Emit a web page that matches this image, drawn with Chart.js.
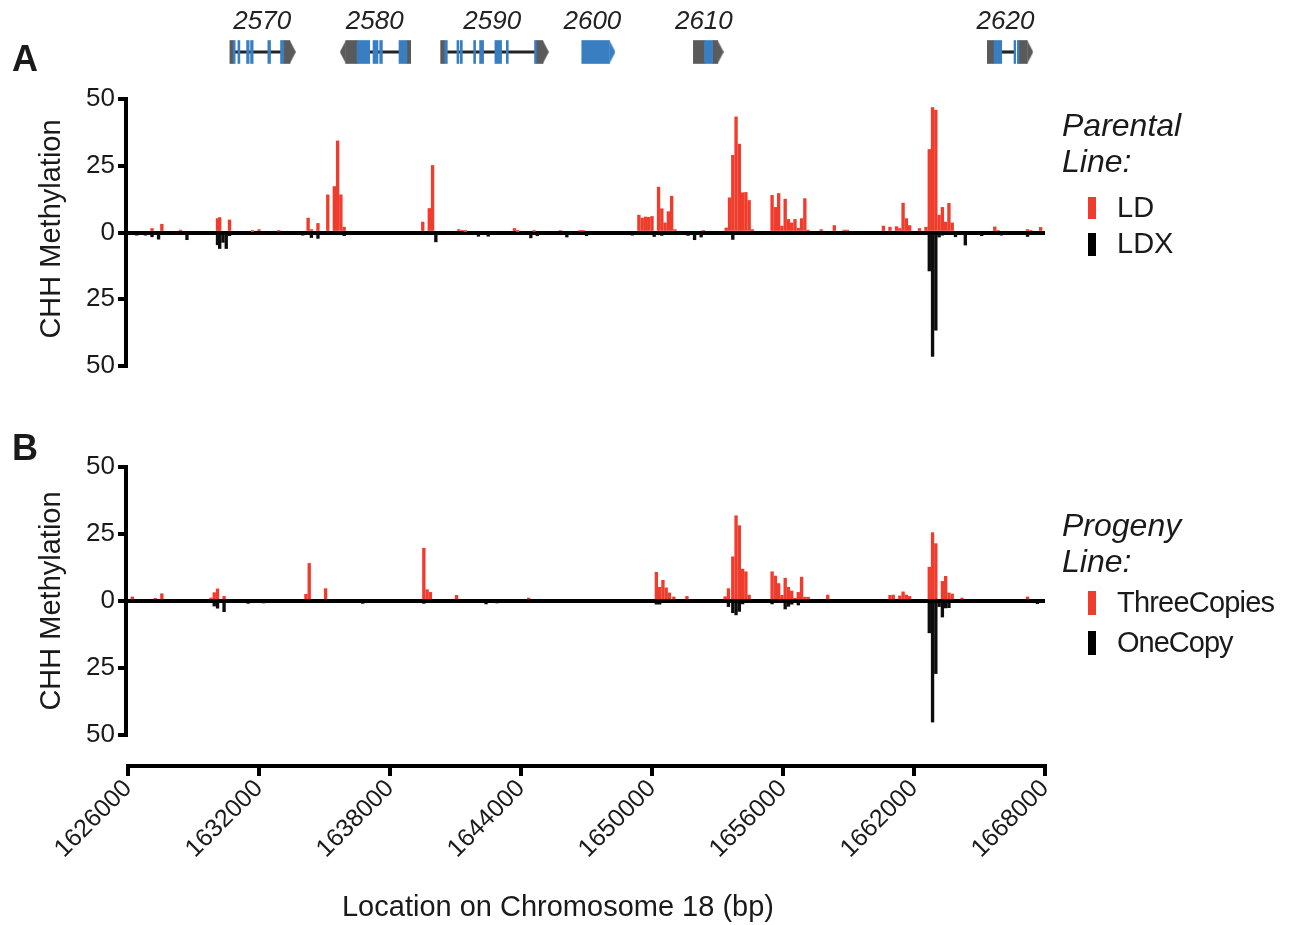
<!DOCTYPE html>
<html><head><meta charset="utf-8">
<script src="https://cdn.jsdelivr.net/npm/chart.js@4.4.1/dist/chart.umd.min.js"></script>
<style>
body{margin:0;background:#fff;width:1291px;height:925px;overflow:hidden;position:relative;font-family:"Liberation Sans",Arial,Helvetica,sans-serif;color:#1a1a1a;}
canvas{position:absolute;left:0;}
.t{position:absolute;white-space:nowrap;line-height:1;}
.rot{position:absolute;white-space:nowrap;line-height:1;transform:translate(-50%,-50%) rotate(-90deg);font-size:29px;}
.mk{position:absolute;width:8px;}
</style></head><body>
<canvas id="genes" width="1291" height="72" style="top:0"></canvas>
<canvas id="pa" width="1291" height="327" style="top:69px"></canvas>
<canvas id="pb" width="1291" height="488" style="top:437px"></canvas>

<div class="t" style="left:12px;top:41px;font-size:36px;font-weight:bold;">A</div>
<div class="t" style="left:12px;top:430px;font-size:36px;font-weight:bold;">B</div>
<div class="rot" style="left:50px;top:229px;">CHH Methylation</div>
<div class="rot" style="left:50px;top:601px;">CHH Methylation</div>
<div class="t" style="left:558px;top:892px;font-size:29px;transform:translateX(-50%);">Location on Chromosome 18 (bp)</div>

<div class="t" style="left:1062px;top:109px;font-size:32px;font-style:italic;">Parental</div>
<div class="t" style="left:1062px;top:145px;font-size:32px;font-style:italic;">Line:</div>
<div class="mk" style="left:1088px;top:197px;height:22px;background:#f03c2c;"></div>
<div class="mk" style="left:1088px;top:233px;height:23px;background:#000;"></div>
<div class="t" style="left:1117px;top:193px;font-size:29px;">LD</div>
<div class="t" style="left:1117px;top:229px;font-size:29px;">LDX</div>

<div class="t" style="left:1062px;top:509px;font-size:32px;font-style:italic;">Progeny</div>
<div class="t" style="left:1062px;top:545px;font-size:32px;font-style:italic;">Line:</div>
<div class="mk" style="left:1088px;top:591px;height:24px;background:#f03c2c;"></div>
<div class="mk" style="left:1088px;top:631px;height:24px;background:#000;"></div>
<div class="t" style="left:1117px;top:588px;font-size:29px;letter-spacing:-0.8px;">ThreeCopies</div>
<div class="t" style="left:1117px;top:628px;font-size:29px;letter-spacing:-1px;">OneCopy</div>

<script>
// ---------- data ----------
const X_MIN = 1626000, X_MAX = 1668000;
const xTicks = [1626000,1632000,1638000,1644000,1650000,1656000,1662000,1668000];
const yTicks = [50,25,0,-25,-50];

// Panel A: parental lines
const ldPos = [1627100,1627550,1628400,1630100,1630200,1630650,1631700,1632000,1632900,1634250,1634400,1634700,1635150,1635450,1635600,1635750,1635900,1639500,1639800,1639950,1641150,1641300,1641450,1643700,1643850,1644600,1645800,1646700,1646850,1649400,1649550,1649700,1649850,1650000,1650300,1650450,1650600,1650750,1650900,1651050,1652350,1653400,1653550,1653700,1653850,1654000,1654150,1654300,1654450,1654600,1655500,1655650,1655800,1655950,1656100,1656250,1656400,1656550,1656700,1656850,1657000,1657150,1657750,1658350,1658800,1658950,1660600,1660900,1661200,1661350,1661500,1661650,1661800,1662250,1662550,1662700,1662850,1663000,1663150,1663300,1663450,1663600,1663750,1665700,1665850,1667200,1667350,1667800];
const ldVal = [1.5,3.1,0.9,5.2,5.6,4.7,0.3,1.1,0.5,5.4,1.1,3.4,14.1,17.2,34.3,14.1,2.0,3.9,9.0,25.1,1.1,0.6,0.3,1.5,0.3,0.4,0.7,0.5,0.5,6.5,5.4,5.8,5.7,6.0,17.0,8.9,3.6,7.8,13.6,1.1,0.6,1.7,13.0,28.9,43.3,33.1,14.9,15.0,12.0,1.1,13.9,9.4,14.6,2.4,12.5,4.9,3.6,4.9,1.6,5.2,12.7,0.9,1.1,2.6,0.9,0.9,2.4,2.0,2.2,1.5,11.0,5.2,2.6,1.5,2.0,31.1,46.8,45.8,6.5,9.4,3.9,10.9,3.6,2.1,0.7,1.1,0.7,1.9];
const ldxPos = [1626400,1626800,1627100,1627400,1628700,1630100,1630200,1630350,1630500,1630650,1634000,1634400,1634700,1635900,1640100,1642050,1642500,1644450,1644750,1646100,1647000,1649100,1650100,1650450,1651650,1651950,1652250,1653700,1662700,1662850,1663000,1663150,1663300,1663900,1664350,1665100,1666000,1667200];
const ldxVal = [1.0,1.0,1.6,2.5,2.7,4.6,6.0,3.7,6.0,1.2,1.0,1.9,2.2,1.2,3.5,1.4,1.4,2.0,1.2,1.7,1.2,1.0,1.5,1.1,1.1,2.7,1.7,2.6,14.4,46.4,36.6,1.7,1.0,1.6,4.7,1.2,1.0,1.5];

// Panel B: progeny lines
const threePos = [1626200,1627250,1627550,1629800,1629950,1630100,1630400,1634150,1634300,1635050,1639550,1639700,1639850,1641050,1644350,1650200,1650350,1650500,1650650,1650800,1651000,1651600,1653350,1653500,1653700,1653850,1654000,1654150,1654300,1654450,1655500,1655650,1655800,1655950,1656100,1656250,1656400,1656550,1656700,1656850,1657000,1657150,1658050,1660900,1661050,1661350,1661500,1661650,1661800,1662700,1662850,1663000,1663300,1663450,1663600,1663750,1664200,1667200];
const threeVal = [1.5,1.0,2.7,1.1,3.1,4.5,1.7,2.5,14.0,4.6,19.7,4.2,3.2,2.1,1.1,10.7,5.1,7.7,4.9,3.0,1.5,1.7,1.6,4.6,16.5,31.8,28.1,11.9,10.9,2.2,10.9,9.3,6.5,2.1,8.5,5.1,3.7,1.0,3.2,8.9,1.4,1.4,2.2,2.1,2.2,1.9,3.4,2.2,1.7,12.6,25.5,21.4,7.3,9.2,3.0,2.6,1.1,1.5];
const onePos = [1629950,1630100,1630400,1631500,1632200,1636750,1639550,1642400,1642900,1650200,1650350,1653500,1653700,1653850,1654000,1654150,1655500,1656100,1656250,1656400,1656700,1662700,1662850,1663000,1663150,1663300,1663450,1663600,1667650];
const oneVal = [1.9,2.7,4.0,0.9,0.5,0.9,0.9,1.1,0.5,1.2,1.2,2.1,4.4,5.2,3.9,1.1,1.1,3.0,2.0,1.2,1.5,11.9,45.2,27.1,2.1,6.0,2.6,2.5,1.0];

// Gene track
const geneNames = ['2570','2580','2590','2600','2610','2620'];
const geneLabelPos = [1632150,1637300,1642680,1647270,1652375,1666190];
const exons = [[1630817,1630909],[1631033,1631124],[1631431,1631549],[1631614,1631732],[1632405,1632529],[1632986,1633137],
  [1636490,1637072],[1637222,1637451],[1637529,1637652],[1638412,1638778],
  [1640503,1640626],[1641065,1641157],[1641221,1641313],[1641830,1641921],[1642104,1642287],[1642804,1643111],[1643326,1643417],[1644620,1644698],
  [1646784,1648052],
  [1652398,1652777],
  [1665665,1666018],[1666580,1666658],[1666731,1666809]];
const utrs = [[1630667,1630817],[1633137,1633412],[1635974,1636490],[1638778,1638947],[1640320,1640503],[1644698,1645000],
  [1651895,1652398],[1652777,1653006],[1665359,1665665],[1666809,1667189]];
const introns = [[1630817,1633137],[1636490,1638778],[1640503,1644698],[1666018,1666580]];
const tipPos = [1633412,1635974,1645000,1648052,1653006,1667189];
const tipDir = [1,-1,1,1,1,1];
const tipKind = ['utr','utr','utr','exon','utr','utr'];

// ---------- styles ----------
const FONT = '"Liberation Sans", Arial, Helvetica, sans-serif';
const RED = '#f03c2c', BLACK = '#0d0d0d', BLUE = '#3a7ec2', GRAY = '#5a5a5a';

function tipCanvas(dir, color){
  const w = 6, h = 23;
  const c = document.createElement('canvas');
  c.width = 2*w; c.height = h;
  const g = c.getContext('2d');
  g.fillStyle = color; g.beginPath();
  if (dir > 0){ g.moveTo(w,0); g.lineTo(2*w,h/2); g.lineTo(w,h); }
  else { g.moveTo(w,0); g.lineTo(0,h/2); g.lineTo(w,h); }
  g.closePath(); g.fill();
  return c;
}

// Gene track chart
new Chart(document.getElementById('genes'), {
  type: 'bar',
  data: { datasets: [
    { data: exons.map(e=>({x:e, y:0})), backgroundColor: BLUE, barThickness: 23, grouped:false, borderWidth:0, order:1 },
    { type:'scatter', indexAxis:'x', data: tipPos.map(p=>({x:p, y:0})), pointRadius:3,
      pointStyle: tipPos.map((p,i)=>tipCanvas(tipDir[i], tipKind[i]==='exon'?BLUE:GRAY)), order:2 },
    { data: utrs.map(e=>({x:e, y:0})), backgroundColor: GRAY, barThickness: 23, grouped:false, borderWidth:0, order:3 },
    { data: introns.map(e=>({x:e, y:0})), backgroundColor: '#222', barThickness: 2.5, grouped:false, borderWidth:0, order:4 }
  ]},
  options: {
    indexAxis: 'y', responsive:false, animation:false, events:[],
    layout:{padding:{left:128,right:246,top:0,bottom:0}},
    plugins:{legend:{display:false}, tooltip:{enabled:false}},
    scales:{
      x:{type:'linear', position:'top', min:X_MIN, max:X_MAX,
        afterBuildTicks: s=>{ s.ticks = geneLabelPos.map(v=>({value:v})); },
        afterFit: s=>{ s.height = 37; },
        grid:{display:false, drawTicks:false}, border:{display:false},
        ticks:{autoSkip:false, maxRotation:0, padding:0, color:'#222', font:{family:FONT,size:26,style:'italic'},
          callback:(v,i)=>geneNames[i]}
      },
      y:{type:'linear', min:-1, max:1, display:false}
    }
  }
});

const yLine = { id:'yline', afterDraw(chart){
  const y = chart.scales.y, ctx = chart.ctx, x = chart.chartArea.left - 2;
  ctx.save(); ctx.strokeStyle = '#000'; ctx.lineWidth = 4; ctx.beginPath();
  ctx.moveTo(x, y.getPixelForValue(50) - 2); ctx.lineTo(x, y.getPixelForValue(-50) + 2);
  ctx.stroke(); ctx.restore();
}};

function panel(id, redPos, redVal, blkPos, blkVal, o){
  return new Chart(document.getElementById(id), {
    type:'bar',
    data:{ datasets:[
      { data: redPos.map((x,i)=>({x, y: redVal[i]})), backgroundColor: RED, barThickness: 2.7, grouped:false, borderWidth:0 },
      { data: blkPos.map((x,i)=>({x, y: -blkVal[i]})), backgroundColor: BLACK, barThickness: 2.7, grouped:false, borderWidth:0 }
    ]},
    options:{
      responsive:false, animation:false, events:[],
      layout:{padding:{left:0,right:246,top:o.padTop,bottom:o.padBottom}},
      plugins:{legend:{display:false}, tooltip:{enabled:false}},
      scales:{
        x:{type:'linear', min:X_MIN, max:X_MAX, display:o.showX, offset:false,
          afterBuildTicks: s=>{ s.ticks = xTicks.map(v=>({value:v})); },
          afterFit: s=>{ if (o.xHeight) s.height = o.xHeight; },
          border:{display:true, color:'#000', width:4},
          grid:{offset:false, drawOnChartArea:false, drawTicks:true, tickLength:10, tickColor:'#000', tickWidth:4, color:'#000', lineWidth:4},
          ticks:{autoSkip:false, maxRotation:45, minRotation:45, padding:-2, color:'#1a1a1a', font:{family:FONT,size:25}, callback:v=>String(v)}
        },
        y:{type:'linear', min:o.yMin, max:50, z:1,
          afterBuildTicks: s=>{ s.ticks = yTicks.map(v=>({value:v})); },
          afterFit: s=>{ s.width = 128; },
          border:{display:false},
          grid:{offset:false, drawTicks:true, tickLength:10, tickColor:'#000', tickWidth:4,
            color: c => (c.tick && c.tick.value === 0) ? '#000' : 'rgba(0,0,0,0)', lineWidth:4},
          ticks:{padding:3, color:'#1a1a1a', font:{family:FONT,size:26}, callback:v=>String(Math.abs(v))}
        }
      }
    },
    plugins:[yLine]
  });
}

panel('pa', ldPos, ldVal, ldxPos, ldxVal, {padTop:30, padBottom:30, showX:false, yMin:-50});
panel('pb', threePos, threeVal, onePos, oneVal, {padTop:30, padBottom:0, showX:true, xHeight:159, yMin:-61.6});
</script>
</body></html>
